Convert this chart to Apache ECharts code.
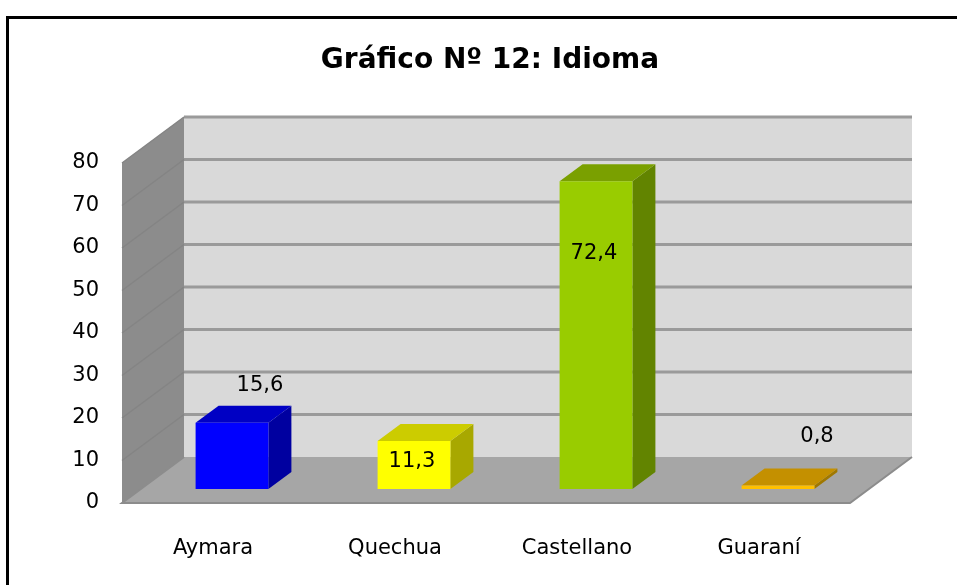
<!DOCTYPE html>
<html>
<head>
<meta charset="utf-8">
<script src="https://cdn.jsdelivr.net/npm/echarts@6/dist/echarts.min.js"></script>
<style>
  html, body { margin: 0; padding: 0; background: #fff; }
  #chart { width: 957px; height: 585px; }
</style>
</head>
<body>
<div id="chart"></div>
<script>
// data
const categories = ['Aymara', 'Quechua', 'Castellano', 'Guaraní'];
const values = [15.6, 11.3, 72.4, 0.8];
const valueLabels = ['15,6', '11,3', '72,4', '0,8'];
const yTicks = [0, 10, 20, 30, 40, 50, 60, 70, 80];

// look of the 3d boxes
const frontColors = ['#0000ff', '#ffff00', '#99cc00', '#ffc000'];
const topColors = ['#0000c4', '#cccc00', '#7aa000', '#c49000'];
const sideColors = ['#0000a0', '#a8a800', '#628400', '#a07800'];
// where each value label sits, relative to the front top centre of its box
const labelShift = [[28, -37], [-2, 21], [-2, 72], [39, -49]];

const wallDepth = [62, -46];
const barFront = [19, -14];
const barDepth = [23, -17];
const font = 'DejaVu Sans, Verdana, sans-serif';

const chart = echarts.init(document.getElementById('chart'));

function renderWalls(params, api) {
  const cs = params.coordSys;
  const x0 = cs.x, x1 = cs.x + cs.width;
  const yb = api.coord([0, yTicks[0]])[1];
  const yt = api.coord([0, yTicks[yTicks.length - 1]])[1];
  const dx = wallDepth[0], dy = wallDepth[1];
  const kids = [];
  // back wall
  kids.push({ type: 'polygon', shape: { points: [[x0 + dx, yt + dy], [x1 + dx, yt + dy], [x1 + dx, yb + dy], [x0 + dx, yb + dy]] },
    style: { fill: '#d9d9d9' } });
  // left wall
  kids.push({ type: 'polygon', shape: { points: [[x0, yt], [x0 + dx, yt + dy], [x0 + dx, yb + dy], [x0, yb]] },
    style: { fill: '#8c8c8c' } });
  yTicks.forEach(function (t) {
    const y = api.coord([0, t])[1];
    if (t > 0) {
      kids.push({ type: 'line', shape: { x1: x0 + dx, y1: y + dy, x2: x1 + dx, y2: y + dy },
        style: { stroke: '#9a9a9a', lineWidth: 3 } });
      kids.push({ type: 'line', shape: { x1: x0, y1: y, x2: x0 + dx, y2: y + dy },
        style: { stroke: '#848484', lineWidth: 1.5 } });
    }
  });
  // floor
  kids.push({ type: 'polygon', shape: { points: [[x0, yb], [x1, yb], [x1 + dx, yb + dy], [x0 + dx, yb + dy]] },
    style: { fill: '#a6a6a6' } });
  kids.push({ type: 'polyline', shape: { points: [[x0 + dx, yb + dy], [x0, yb], [x1, yb], [x1 + dx, yb + dy]] },
    style: { stroke: '#8c8c8c', lineWidth: 2, fill: null } });
  return { type: 'group', children: kids };
}

function renderBar(params, api) {
  const i = api.value(0);
  const base = api.coord([i, 0]);
  const top = api.coord([i, api.value(1)]);
  const bw = api.size([1, 0])[0] * 0.4;
  const l = base[0] - bw / 2 + barFront[0];
  const r = l + bw;
  const fb = base[1] + barFront[1];
  const ft = top[1] + barFront[1];
  const ddx = barDepth[0], ddy = barDepth[1];
  const cx = (l + r) / 2;
  return {
    type: 'group',
    children: [
      { type: 'polygon', shape: { points: [[r, ft], [r + ddx, ft + ddy], [r + ddx, fb + ddy], [r, fb]] },
        style: { fill: sideColors[i] } },
      { type: 'polygon', shape: { points: [[l, ft], [r, ft], [r + ddx, ft + ddy], [l + ddx, ft + ddy]] },
        style: { fill: topColors[i] } },
      { type: 'rect', shape: { x: l, y: ft, width: bw, height: fb - ft },
        style: { fill: frontColors[i] } },
      { type: 'text', x: cx + labelShift[i][0], y: ft + labelShift[i][1],
        style: { text: valueLabels[i], fill: '#000', fontSize: 21, fontFamily: font,
          align: 'center', verticalAlign: 'middle' } }
    ]
  };
}

chart.setOption({
  animation: false,
  backgroundColor: '#fff',
  grid: { left: 122, right: 107, top: 163, bottom: 82 },
  xAxis: {
    type: 'category',
    data: categories,
    axisLine: { show: false },
    axisTick: { show: false },
    axisLabel: { color: '#000', fontSize: 21, margin: 35, fontFamily: font }
  },
  yAxis: {
    type: 'value',
    min: 0,
    max: 80,
    interval: 10,
    axisLine: { show: false },
    axisTick: { show: false },
    splitLine: { show: false },
    axisLabel: { color: '#000', fontSize: 21, margin: 23, padding: [4, 0, 0, 0], fontFamily: font }
  },
  graphic: [
    { type: 'rect', left: 5, top: 15, shape: { width: 980, height: 600 },
      style: { fill: null, stroke: '#000', lineWidth: 3 }, z: 100 },
    { type: 'text', x: 490, y: 61,
      style: { text: 'Gráfico Nº 12: Idioma', fill: '#000', fontSize: 28, fontWeight: 'bold',
        fontFamily: font, align: 'center', verticalAlign: 'middle' } }
  ],
  series: [
    { type: 'custom', data: [[0, 0]], renderItem: renderWalls, silent: true, z: 1 },
    { type: 'custom', data: values.map(function (v, i) { return [i, v]; }), renderItem: renderBar, z: 2 }
  ]
});
</script>
</body>
</html>
